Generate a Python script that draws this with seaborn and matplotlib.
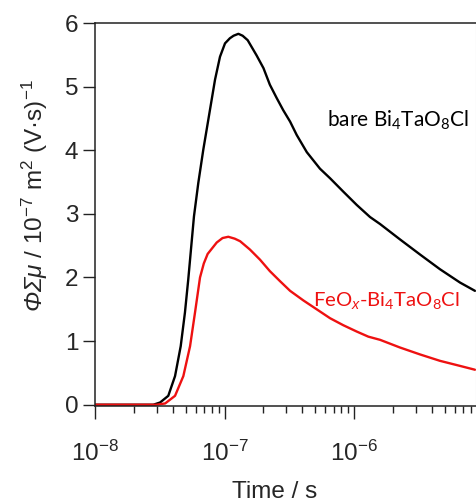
import numpy as np
import pandas as pd
import matplotlib
matplotlib.use("Agg")
import matplotlib.pyplot as plt
import seaborn as sns
from matplotlib.ticker import LogLocator, NullFormatter

# Transient photoconductivity traces (time in s, signal in 1e-7 m^2 (V s)^-1)
bare_time = [1.0e-8, 1.58e-8, 2.82e-8, 3.18e-8, 3.68e-8, 4.15e-8, 4.59e-8, 4.95e-8,
             5.25e-8, 5.81e-8, 6.28e-8, 6.86e-8, 7.73e-8, 8.45e-8, 9.23e-8, 1.009e-7,
             1.10e-7, 1.175e-7, 1.28e-7, 1.38e-7, 1.51e-7, 1.77e-7, 2.00e-7, 2.24e-7,
             2.53e-7, 2.84e-7, 3.21e-7, 3.61e-7, 4.32e-7, 5.46e-7, 6.53e-7, 8.26e-7,
             1.05e-6, 1.33e-6, 1.59e-6, 2.26e-6, 3.24e-6, 4.61e-6, 6.59e-6, 8.59e-6]
bare_signal = [0.0, 0.0, 0.0, 0.035, 0.14, 0.45, 0.92, 1.45,
               1.97, 2.96, 3.49, 4.01, 4.64, 5.11, 5.47, 5.68,
               5.76, 5.80, 5.83, 5.80, 5.73, 5.49, 5.29, 5.03,
               4.82, 4.63, 4.45, 4.24, 3.97, 3.71, 3.56, 3.35,
               3.14, 2.95, 2.84, 2.60, 2.36, 2.13, 1.92, 1.79]

feox_time = [1.0e-8, 1.58e-8, 2.99e-8, 3.48e-8, 4.15e-8, 4.81e-8, 5.42e-8, 5.92e-8,
             6.47e-8, 6.92e-8, 7.41e-8, 8.71e-8, 9.66e-8, 1.07e-7, 1.20e-7, 1.32e-7,
             1.57e-7, 1.88e-7, 2.24e-7, 2.69e-7, 3.21e-7, 4.06e-7, 5.15e-7, 6.53e-7,
             8.26e-7, 1.05e-6, 1.29e-6, 1.59e-6, 2.26e-6, 3.24e-6, 4.61e-6, 6.59e-6,
             8.59e-6]
feox_signal = [0.0, 0.0, 0.0, 0.02, 0.14, 0.45, 0.92, 1.45,
               2.00, 2.22, 2.37, 2.55, 2.62, 2.64, 2.61, 2.57,
               2.44, 2.28, 2.10, 1.94, 1.79, 1.64, 1.50, 1.36,
               1.25, 1.15, 1.07, 1.02, 0.90, 0.79, 0.69, 0.61,
               0.55]

samples = ["bare", "FeOx"]
colors = {"bare": "#000000", "FeOx": "#ee1111"}

df = pd.concat([
    pd.DataFrame({"time": bare_time, "signal": bare_signal, "sample": "bare"}),
    pd.DataFrame({"time": feox_time, "signal": feox_signal, "sample": "FeOx"}),
])

sns.set_style("ticks")
plt.rcParams.update({
    "font.family": ["Liberation Sans", "DejaVu Sans"],
    "mathtext.fontset": "custom",
    "mathtext.rm": "Liberation Sans",
    "mathtext.it": "Liberation Sans:italic",
    "mathtext.sf": "Liberation Sans:italic",
    "mathtext.bf": "Liberation Sans:bold",
    "axes.unicode_minus": False,
})

fig = plt.figure(figsize=(4.76, 5.03), dpi=100)
ax = fig.add_axes([95 / 476, 1 - 406 / 503, 381 / 476, 383 / 503])

sns.lineplot(data=df, x="time", y="signal", hue="sample", hue_order=samples,
             palette=colors, linewidth=1.7, estimator=None, sort=False,
             legend=False, ax=ax)

ax.set_xscale("log")
ax.set_xlim(1e-8, 8.75e-6)
ax.set_ylim(-0.02, 6)
ax.set_yticks(range(7))
ax.xaxis.set_major_locator(LogLocator(base=10, numticks=10))
ax.xaxis.set_minor_locator(LogLocator(base=10, subs=np.arange(2, 10), numticks=100))
ax.xaxis.set_minor_formatter(NullFormatter())

for side in ["left", "bottom", "top"]:
    ax.spines[side].set_color("#222222")
    ax.spines[side].set_linewidth(1.1)
ax.spines["right"].set_color("#cccccc")
ax.spines["right"].set_linewidth(0.8)

ax.tick_params(axis="both", which="major", direction="out", length=9, width=1.0,
               color="#222222", labelsize=17.5)
ax.tick_params(axis="x", which="major", pad=16)
ax.tick_params(axis="y", which="major", pad=3)
ax.tick_params(axis="x", which="minor", direction="out", length=5, width=1.0,
               color="#222222")

ax.set_ylabel("$\\mathsf{ΦΣμ}$ / 10$^{\u22127}$ m$^{2}$ (V·s)$^{\u22121}$",
              fontsize=17.5)
ax.yaxis.set_label_coords(-0.118, 0.55)
ax.set_xlabel("Time / s", fontsize=17.5)
ax.xaxis.set_label_coords(0.472, -0.197)

ax.text(0.609, 0.729, "bare Bi$_\\mathregular{4}$TaO$_\\mathregular{8}$Cl",
        transform=ax.transAxes, fontsize=15.0, family="Lato", color="#000000",
        ha="left", va="baseline")
ax.text(0.572, 0.258, "FeO$_\\mathit{x}$-Bi$_\\mathregular{4}$TaO$_\\mathregular{8}$Cl",
        transform=ax.transAxes, fontsize=14.6, family="Lato", color=colors["FeOx"],
        ha="left", va="baseline")

fig.savefig("out.png", dpi=100)
